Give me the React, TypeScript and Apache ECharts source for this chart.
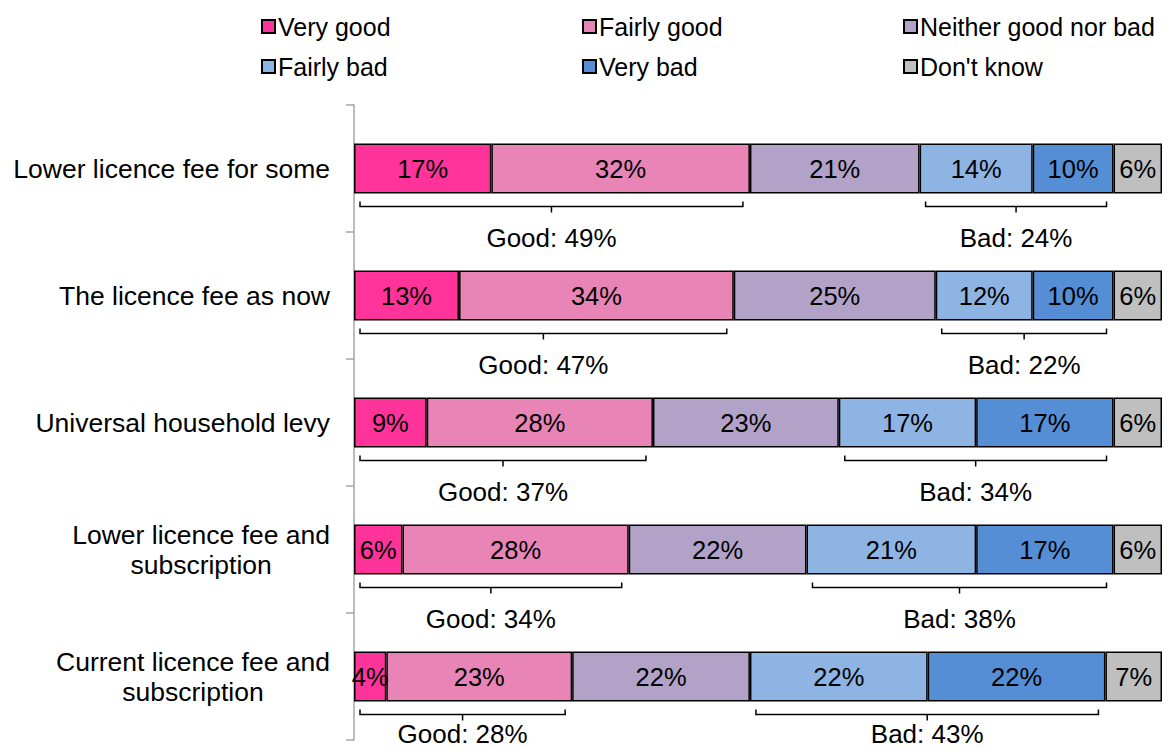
import React, { useEffect, useRef } from "react";
import * as echarts from "echarts";

const categories = [
  "Lower licence fee for some",
  "The licence fee as now",
  "Universal household levy",
  "Lower licence fee and\nsubscription",
  "Current licence fee and\nsubscription",
];
const seriesNames = ["Very good", "Fairly good", "Neither good nor bad", "Fairly bad", "Very bad", "Don't know"];
const veryGood = [17, 13, 9, 6, 4];
const fairlyGood = [32, 34, 28, 28, 23];
const neither = [21, 25, 23, 22, 22];
const fairlyBad = [14, 12, 17, 21, 22];
const veryBad = [10, 10, 17, 17, 22];
const dontKnow = [6, 6, 6, 6, 7];
const goodTotals = [49, 47, 37, 34, 28];
const badTotals = [24, 22, 34, 38, 43];

const colors = ["#FF3399", "#E984B6", "#B3A2C7", "#8EB4E3", "#558ED5", "#BFBFBF"];
const FONT = "'Liberation Sans', Arial, sans-serif";

export default function App() {
  const ref = useRef<HTMLDivElement>(null);
  useEffect(() => {
    if (!ref.current) return;
    const chart = echarts.init(ref.current, null, { renderer: "svg" });
    const values = [veryGood, fairlyGood, neither, fairlyBad, veryBad, dontKnow];

    const bars = values.map((arr, i) => ({
      name: seriesNames[i],
      type: "bar",
      stack: "all",
      barWidth: 50,
      data: arr,
      itemStyle: { color: colors[i], borderColor: "#000", borderWidth: 1.5 },
      label: {
        show: true,
        position: "inside",
        formatter: "{c}%",
        fontSize: 25.5,
        color: "#000",
        fontFamily: FONT,
      },
      emphasis: { disabled: true },
    }));

    const bracketData: any[] = [];
    categories.forEach((_, i) => {
      const g0 = 0;
      const g1 = veryGood[i] + fairlyGood[i];
      const b0 = g1 + neither[i];
      const b1 = b0 + fairlyBad[i] + veryBad[i];
      bracketData.push([i, g0, g1, "Good: " + goodTotals[i] + "%"]);
      bracketData.push([i, b0, b1, "Bad: " + badTotals[i] + "%"]);
    });

    const brackets = {
      type: "custom",
      name: "brackets",
      encode: { y: 0, x: [1, 2] },
      data: bracketData,
      silent: true,
      z: 5,
      renderItem: (params: any, api: any) => {
        const idx = api.value(0);
        const p1 = api.coord([api.value(1), idx]);
        const p2 = api.coord([api.value(2), idx]);
        const text = bracketData[params.dataIndex][3];
        const x1 = p1[0] + 6;
        const x2 = p2[0] - 7;
        const ly = p1[1] + 25 + 13;
        const xc = (x1 + x2) / 2;
        const ty = Math.min(ly + 31, api.getHeight() - 17);
        return {
          type: "group",
          children: [
            {
              type: "polyline",
              shape: { points: [[x1, ly - 5], [x1, ly], [x2, ly], [x2, ly - 5]] },
              style: { stroke: "#000", lineWidth: 1.5, fill: null },
            },
            {
              type: "line",
              shape: { x1: xc, y1: ly, x2: xc, y2: ly + 6 },
              style: { stroke: "#000", lineWidth: 1.5 },
            },
            {
              type: "text",
              style: {
                text,
                x: xc,
                y: ty,
                align: "center",
                verticalAlign: "middle",
                fontSize: 26,
                fontFamily: FONT,
                fill: "#000",
              },
            },
          ],
        };
      },
    };

    const colX = [256, 577, 898];
    const rowY = [9, 49];
    const legends = seriesNames.map((n, i) => ({
      data: [n],
      left: colX[i % 3],
      top: rowY[Math.floor(i / 3)],
      itemWidth: 13,
      itemHeight: 13,
      itemGap: 4,
      icon: "rect",
      selectedMode: false,
      textStyle: { fontSize: 25, color: "#000", fontFamily: FONT, padding: [0, 0, 0, -2] },
    }));

    chart.setOption({
      animation: false,
      textStyle: { fontFamily: FONT },
      legend: legends,
      grid: { left: 354, right: 14, top: 105, bottom: 11, containLabel: false },
      xAxis: { type: "value", min: 0, max: 100, show: false },
      yAxis: {
        type: "category",
        data: categories,
        inverse: true,
        axisLine: { show: true, lineStyle: { color: "#A6A6A6", width: 1.5 } },
        axisTick: { show: true, length: 8, lineStyle: { color: "#A6A6A6", width: 1.5 } },
        axisLabel: {
          margin: 24,
          color: "#000",
          fontSize: 26.5,
          fontFamily: FONT,
          formatter: (v: string) => v.split("\n").map((s) => "{c|" + s + "}").join("\n"),
          rich: { c: { align: "center", fontSize: 26.5, lineHeight: 30, fontFamily: FONT, color: "#000" } },
        },
      },
      series: [...bars, brackets],
    });
    return () => chart.dispose();
  }, []);
  return (
    <div
      ref={ref}
      style={{ position: "fixed", left: 0, top: 0, width: 1176, height: 751, background: "#fff" }}
    />
  );
}
